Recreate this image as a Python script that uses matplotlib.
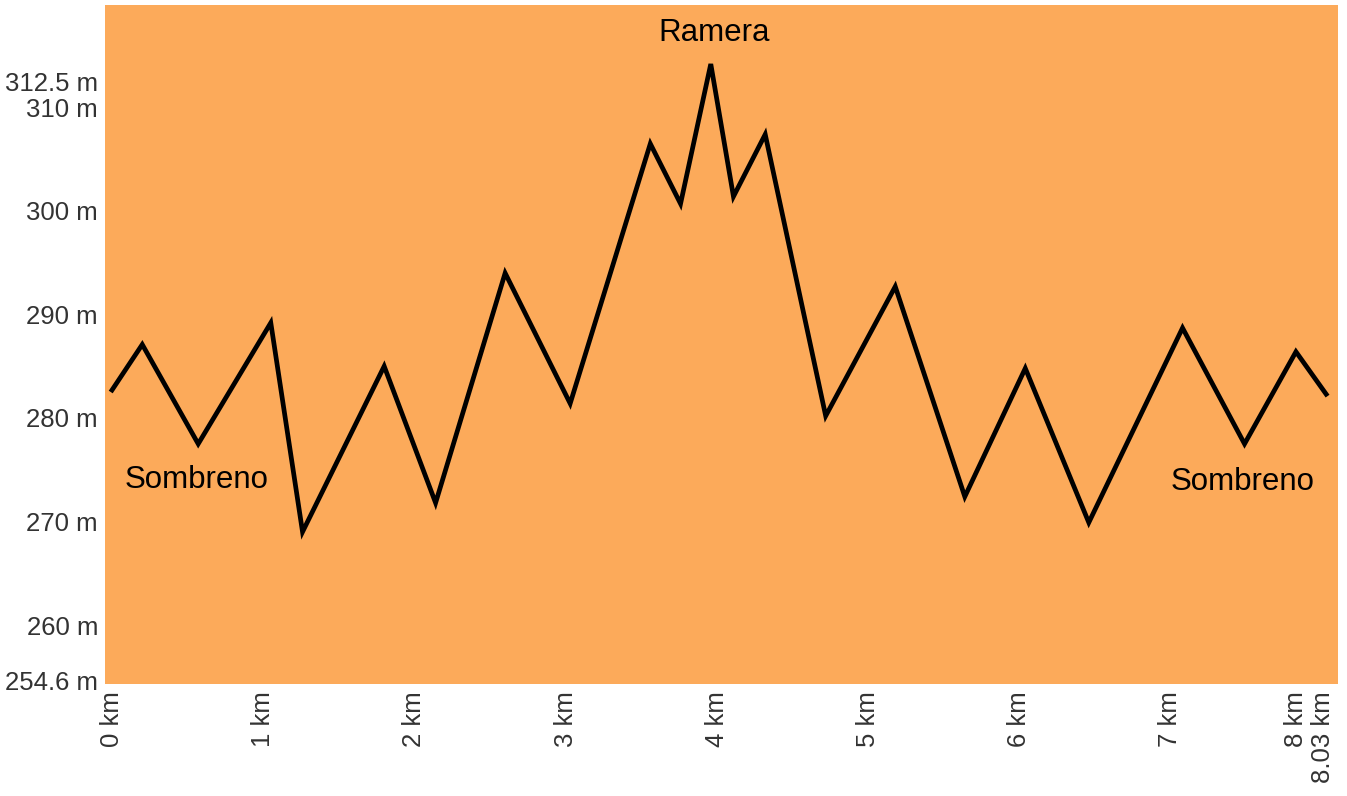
import matplotlib.pyplot as plt
import matplotlib.transforms as mtransforms

# ---------- Data ----------
dist_km = [0.0, 0.20, 0.57, 1.05, 1.26, 1.80, 2.14, 2.60, 3.03, 3.56, 3.76,
           3.96, 4.11, 4.32, 4.72, 5.18, 5.64, 6.04, 6.46, 7.08, 7.49, 7.83, 8.03]
elev_m = [282.7, 287.1, 277.5, 289.2, 269.0, 285.0, 271.8, 294.0, 281.4, 306.5, 300.7,
          314.2, 301.4, 307.4, 280.2, 292.7, 272.4, 284.8, 269.9, 288.7, 277.5, 286.4, 282.3]

x_ticks = [0, 1, 2, 3, 4, 5, 6, 7, 8, 8.03]
x_labels = ["0 km", "1 km", "2 km", "3 km", "4 km", "5 km", "6 km", "7 km", "8 km", "8.03 km"]
y_ticks = [254.6, 260, 270, 280, 290, 300, 310, 312.5]
y_labels = ["254.6 m", "260 m", "270 m", "280 m", "290 m", "300 m", "310 m", "312.5 m"]

places = ["Sombreno", "Ramera", "Sombreno"]
place_x = [0.56, 3.98, 7.48]
place_y = [274.0, 317.2, 273.8]

plt.rcParams['font.family'] = ['Liberation Sans', 'DejaVu Sans']

fig = plt.figure(figsize=(13.47, 7.96), dpi=100)
ax = fig.add_axes([0.078, 0.1407, 0.9153, 0.853])
ax.set_facecolor('#fcaa5a')

ax.plot(dist_km, elev_m, color='black', linewidth=3.4, solid_joinstyle='miter')

for name, px, py in zip(places, place_x, place_y):
    ax.text(px, py, name, fontsize=22.5, color='black', ha='center', va='center')

ax.set_xlim(-0.046, 8.108)
ax.set_ylim(254.3, 319.9)

ax.set_xticks(x_ticks)
ax.set_xticklabels(x_labels, rotation=90, fontsize=18.5, color='#333333')
ax.set_yticks(y_ticks)
ax.set_yticklabels(y_labels, fontsize=18.5, color='#333333')
ax.tick_params(length=0, pad=5)

# nudge "8 km" label left and "8.03 km" right so they don't overlap
labs = ax.get_xticklabels()
labs[8].set_transform(labs[8].get_transform() + mtransforms.ScaledTranslation(-0.26, 0, fig.dpi_scale_trans))
labs[9].set_transform(labs[9].get_transform() + mtransforms.ScaledTranslation(-0.03, 0, fig.dpi_scale_trans))

for s in ax.spines.values():
    s.set_visible(False)

fig.savefig("out.png", dpi=100)
